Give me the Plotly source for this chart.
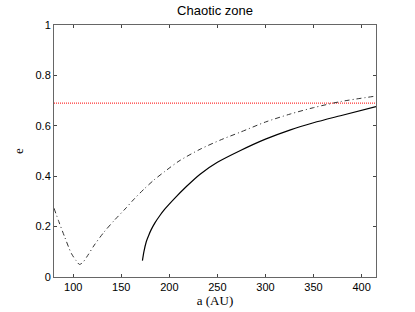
import plotly.graph_objects as go

# Data
a_dashdot = [80, 85, 91, 98, 103, 106.5, 110, 115, 122, 132, 143, 154, 164, 174, 184, 195,
             210, 232, 254, 274, 300, 326, 350, 378, 415]
e_dashdot = [0.273, 0.22, 0.16, 0.094, 0.065, 0.05, 0.058, 0.085, 0.127, 0.178, 0.226, 0.27,
             0.312, 0.35, 0.385, 0.418, 0.46, 0.507, 0.545, 0.575, 0.615, 0.647, 0.672, 0.696, 0.718]

a_solid = [172, 173.5, 176, 178.5, 181, 185, 190, 195, 205, 218, 232, 250, 274, 300, 326, 350, 378, 415]
e_solid = [0.065, 0.10, 0.14, 0.165, 0.187, 0.215, 0.243, 0.268, 0.31, 0.36, 0.408, 0.455,
           0.502, 0.547, 0.584, 0.612, 0.64, 0.676]

a_limit = [80, 415]
e_limit = [0.69, 0.69]

x_ticks = [100, 150, 200, 250, 300, 350, 400]
y_ticks = [0, 0.2, 0.4, 0.6, 0.8, 1]
y_tick_labels = ["0", "0.2", "0.4", "0.6", "0.8", "1"]

fig = go.Figure()
fig.add_trace(go.Scatter(x=a_limit, y=e_limit, mode="lines",
                         line=dict(color="#ff0000", width=1, dash="1px,1px")))
fig.add_trace(go.Scatter(x=a_dashdot, y=e_dashdot, mode="lines",
                         line=dict(color="#333333", width=1, dash="5px,3px,1px,3px",
                                   shape="spline", smoothing=0.8)))
fig.add_trace(go.Scatter(x=a_solid, y=e_solid, mode="lines",
                         line=dict(color="#000000", width=1.2, shape="spline", smoothing=0.8)))

fig.update_layout(
    width=415, height=312,
    margin=dict(l=54, r=39, t=25, b=35),
    paper_bgcolor="white", plot_bgcolor="white",
    showlegend=False,
    title=dict(text="Chaotic zone", x=(54 + 376) / 2 / 415, xanchor="center",
               y=1 - 10 / 312, yanchor="middle",
               font=dict(family="Liberation Sans, Arial", size=13, color="#000")),
    font=dict(family="Liberation Sans, Arial", size=11, color="#000"),
)
fig.update_xaxes(range=[80, 415], tickvals=x_ticks, ticks="inside", ticklen=3,
                 tickcolor="#444", showline=True, linecolor="#666", linewidth=1, mirror="ticks",
                 showgrid=False, zeroline=False, automargin=False,
                 title=dict(text="a (AU)", standoff=0,
                            font=dict(family="Liberation Serif, Times New Roman", size=13)))
fig.update_yaxes(range=[0, 1], tickvals=y_ticks, ticktext=y_tick_labels, ticks="inside",
                 ticklen=3, tickcolor="#444", showline=True, linecolor="#666", linewidth=1,
                 mirror="ticks", showgrid=False, zeroline=False, automargin=False,
                 title=dict(text="e", standoff=8,
                            font=dict(family="Liberation Serif, Times New Roman", size=13)))

fig.write_html("out.html", config={"displayModeBar": False},
               post_script="document.body.style.margin='0';document.body.style.padding='0';")
